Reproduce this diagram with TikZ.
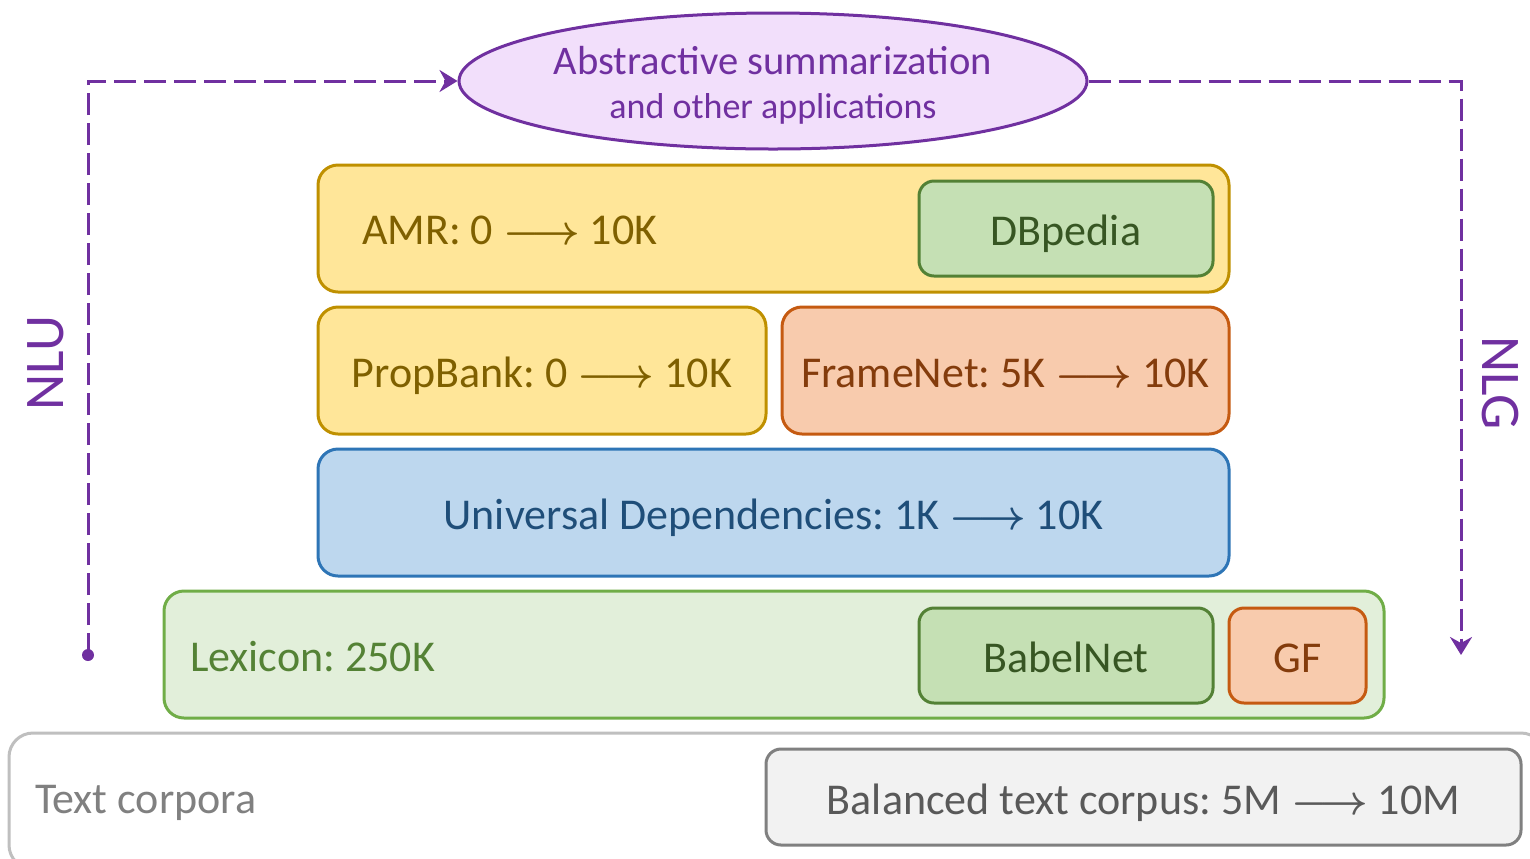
\documentclass[tikz,border=0pt]{standalone}
\usepackage{fontspec}
\setmainfont{Carlito}
\usepackage{tikz}
\usetikzlibrary{shapes.geometric, arrows.meta}

\definecolor{purp}{HTML}{7030A0}
\definecolor{purpfill}{HTML}{F2DFFB}
\definecolor{goldline}{HTML}{BF9000}
\definecolor{goldfill}{HTML}{FFE699}
\definecolor{goldtext}{HTML}{7F6000}
\definecolor{grnline}{HTML}{538135}
\definecolor{grnfill}{HTML}{C5E0B4}
\definecolor{grntext}{HTML}{375623}
\definecolor{lgrnline}{HTML}{70AD47}
\definecolor{lgrnfill}{HTML}{E2EFDA}
\definecolor{lgrntext}{HTML}{548235}
\definecolor{orgline}{HTML}{C55A11}
\definecolor{orgfill}{HTML}{F8CBAD}
\definecolor{orgtext}{HTML}{843C0C}
\definecolor{bluline}{HTML}{2E75B6}
\definecolor{blufill}{HTML}{BDD7EE}
\definecolor{blutext}{HTML}{1F4E79}

\newcommand{\grows}{{\boldmath$\longrightarrow$}}
\frenchspacing

\begin{document}
\begin{tikzpicture}[x=0.5pt, y=-0.5pt, >={Stealth[length=9pt, width=11pt, inset=3pt]},
    font=\fontsize{22}{26}\selectfont,
    layer/.style={draw, line width=1.5pt, rounded corners=10pt, inner sep=0pt, minimum height=63.5pt,
      text height=17pt, text depth=0pt},
    res/.style={draw, line width=1.5pt, rounded corners=7.5pt, inner sep=0pt, minimum height=47.5pt,
      text height=17pt, text depth=0pt},
    flow/.style={purp, line width=1.5pt, dash pattern=on 11pt off 4pt}]
  \useasboundingbox (0,0) rectangle (1530,858);
  % application on top
  \node[ellipse, draw=purp, fill=purpfill, line width=1.5pt, inner sep=0pt, minimum width=314pt,
    minimum height=68pt, text=purp, align=center, font=\fontsize{20.3}{24}\selectfont] (app) at (773,81)
    {};
  \node[text=purp, align=center, font=\fontsize{20.3}{24}\selectfont] (appT) at (773,85)
    {Abstractive summarization\\[-2pt] {\fontsize{18}{20}\selectfont and other applications}};
  % AMR layer with DBpedia
  \node[layer, draw=goldline, fill=goldfill, minimum width=455.5pt] (amr) at (773.5,228.5) {};
  \node[anchor=west, text=goldtext] (amrT) at (355,230) {AMR: 0 \grows\ 10K};
  \node[res, draw=grnline, fill=grnfill, text=grntext, minimum width=147pt] (dbp) at (1066,228.5) {DBpedia};
  % PropBank and FrameNet
  \node[layer, draw=goldline, fill=goldfill, text=goldtext, minimum width=224pt] (prop) at (542,370.5)
    {PropBank: 0 \grows\ 10K};
  \node[layer, draw=orgline, fill=orgfill, text=orgtext, minimum width=223.5pt] (fn) at (1005.5,370.5)
    {FrameNet: 5K \grows\ 10K};
  % UD
  \node[layer, draw=bluline, fill=blufill, text=blutext, minimum width=455.5pt] (ud) at (773.5,512.5)
    {Universal Dependencies: 1K \grows\ 10K};
  % lexicon layer
  \node[layer, draw=lgrnline, fill=lgrnfill, minimum width=610pt] (lex) at (774,654.5) {};
  \node[anchor=west, text=lgrntext] (lexT) at (183,657) {Lexicon: 250K};
  \node[res, draw=grnline, fill=grnfill, text=grntext, minimum width=147pt] (bab) at (1066,655.5) {BabelNet};
  \node[res, draw=orgline, fill=orgfill, text=orgtext, minimum width=68.5pt] (gf) at (1297.5,655.5) {GF};
  % text corpora at the bottom
  \node[layer, draw=black!25, fill=white, rounded corners=12pt, minimum width=768pt, minimum height=68pt]
    (corp) at (777,801) {};
  \node[anchor=west, text=black!50] (corpT) at (28,803) {Text corpora};
  \node[res, draw=black!50, fill=black!5, text=black!65, minimum width=377.5pt, minimum height=48pt]
    (bal) at (1143.5,797) {Balanced text corpus: 5M \grows\ 10M};
  % NLU / NLG
  \coordinate (nluS) at (88,655);
  \coordinate (nlgE) at (1461,655);
  \fill[purp] (nluS) circle (3pt);
  \draw[flow, ->] (nluS) |- (app.west);
  \draw[flow, ->] (app.east) -| (nlgE);
  \node[rotate=90, text=purp, font=\fontsize{28}{32}\selectfont] (nlu) at (46,363) {NLU};
  \node[rotate=-90, text=purp, font=\fontsize{28}{32}\selectfont] (nlg) at (1500,383) {NLG};
\end{tikzpicture}
\end{document}
